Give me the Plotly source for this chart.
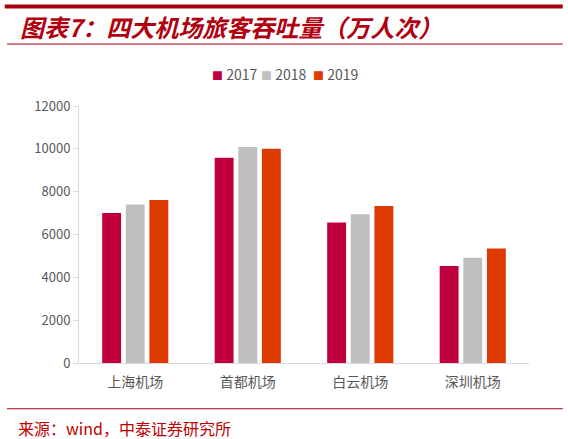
import plotly.graph_objects as go

airports = ["上海机场", "首都机场", "白云机场", "深圳机场"]
years = ["2017", "2018", "2019"]
v2017 = [7000, 9580, 6560, 4530]
v2018 = [7400, 10090, 6950, 4910]
v2019 = [7610, 10000, 7330, 5350]
colors = ["#C0003C", "#BFBFBF", "#DC3A00"]

fig = go.Figure()
for yr, vals, c in zip(years, [v2017, v2018, v2019], colors):
    fig.add_trace(go.Bar(name=yr, x=airports, y=vals, marker_color=c,
                         marker_line_width=0))

red = "#A8000F"

# legend drawn as small annotations so the spacing matches the original
legend_x = [0.292, 0.4, 0.516]
legend_notes = []
for yr, c, lx in zip(years, colors, legend_x):
    legend_notes.append(dict(
        text=f"<span style='color:{c};font-size:11px'>■</span> {yr}",
        xref="paper", yref="paper", x=lx, y=1.1245,
        xanchor="left", yanchor="middle", showarrow=False,
        font=dict(size=14, color="#595959")))

fig.update_layout(
    width=568, height=439,
    margin=dict(l=79, r=39, t=106, b=76),
    paper_bgcolor="white", plot_bgcolor="white",
    barmode="group", bargap=0.37, bargroupgap=0.2,
    font=dict(family="Noto Sans CJK SC", size=12, color="#595959"),
    showlegend=False,
    xaxis=dict(showline=True, linecolor="#D9D9D9", linewidth=1,
               ticks="", ticklabelstandoff=6,
               tickfont=dict(size=14, color="#595959")),
    yaxis=dict(range=[0, 12000], dtick=2000, tickformat="d", showgrid=False,
               showline=True, linecolor="#D9D9D9", linewidth=1,
               ticks="outside", ticklen=5, tickcolor="#D9D9D9",
               tickfont=dict(size=13, color="#595959"), zeroline=False),
    shapes=[
        dict(type="line", xref="paper", yref="paper", x0=-0.165, x1=1.075,
             y0=1.387, y1=1.387, line=dict(color=red, width=4)),
        dict(type="line", xref="paper", yref="paper", x0=-0.16, x1=1.075,
             y0=1.241, y1=1.241, line=dict(color=red, width=1)),
        dict(type="line", xref="paper", yref="paper", x0=-0.16, x1=1.075,
             y0=-0.178, y1=-0.178, line=dict(color=red, width=1)),
    ],
    annotations=[
        dict(text="<b><i>图表7：四大机场旅客吞吐量（万人次）</i></b>",
             xref="paper", yref="paper", x=-0.135, y=1.31,
             xanchor="left", yanchor="middle", showarrow=False,
             font=dict(size=24, color="#B00010", family="Noto Sans CJK SC")),
        dict(text="来源：wind，中泰证券研究所",
             xref="paper", yref="paper", x=-0.14, y=-0.252,
             xanchor="left", yanchor="middle", showarrow=False,
             font=dict(size=16, color="#C00000", family="Noto Sans CJK SC")),
    ] + legend_notes,
)

fig.write_html("out.html", config={"displayModeBar": False},
               post_script="document.body.style.margin='0px';")
